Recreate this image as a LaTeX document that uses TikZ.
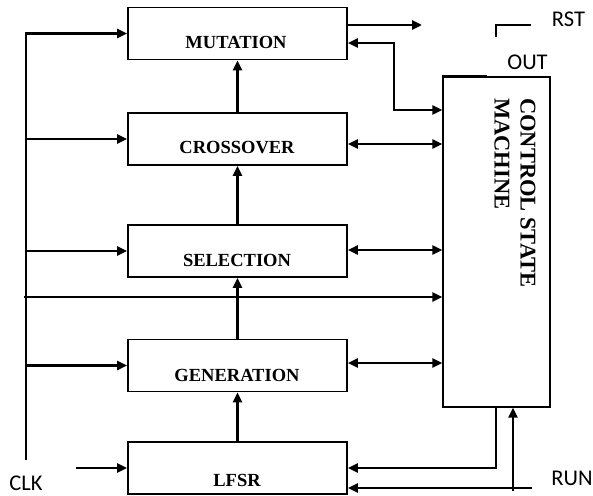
\documentclass[tikz,border=0pt]{standalone}
\usepackage{fontspec}
\setmainfont{Liberation Serif}
\newfontfamily\lblsans{Carlito}
\usetikzlibrary{arrows.meta,calc}
\begin{document}
\begin{tikzpicture}[x=1pt,y=-1pt,
 box/.style={draw, line width=1.8pt, minimum width=219pt, minimum height=52pt, inner sep=0pt},
 lbl/.style={font=\fontsize{18.5}{20}\selectfont\bfseries, inner sep=0pt},
 sig/.style={font=\lblsans\fontsize{22.5}{24}\selectfont, inner sep=0pt},
 wire/.style={line width=2.6pt},
 arr/.style={wire, -{Triangle[length=10pt,width=9pt]}},
 darr/.style={wire, {Triangle[length=10pt,width=9pt]}-{Triangle[length=10pt,width=9pt]}}]
\useasboundingbox (0,0) rectangle (593,495);
% blocks
\node[box] (mut) at (237.5,33.5) {};
\node[box] (cro) at (237.5,139) {};
\node[box] (sel) at (237.5,251) {};
\node[box] (gen) at (237.5,365.5) {};
\node[box] (lfsr) at (237.5,468) {};
\node[lbl] (mutl) at (236,42) {MUTATION};
\node[lbl] (crol) at (237,148) {CROSSOVER};
\node[lbl] (sell) at (237,260) {SELECTION};
\node[lbl] (genl) at (237,375) {GENERATION};
\node[lbl] (lfsrl) at (237,480) {LFSR};
% control state machine
\node[draw, line width=1.4pt, minimum width=107pt, minimum height=330pt, inner sep=0pt] (csm) at (496.5,242) {};
\node[rotate=-90, align=left, font=\fontsize{22.5}{26}\selectfont\bfseries, inner sep=0pt] (csmt) at (515,193) {CONTROL STATE\\MACHINE};
\draw[line width=2pt] (csm.north west) -- ++(45,0);
% vertical data flow
\draw[arr] (cro.north) -- (mut.south);
\draw[arr] (sel.north) -- (cro.south);
\draw[arr] (gen.north) -- (sel.south);
\draw[arr] (lfsr.north) -- (gen.south);
% clock bus
\coordinate (busb) at (26,460);
\draw[arr] (busb) |- (mut.west);
\draw[arr] (busb |- cro.west) -- (cro.west);
\draw[arr] (busb |- sel.west) -- (sel.west);
\draw[arr] (busb |- gen.west) -- (gen.west);
\coordinate (h) at (24,297);
\draw[arr] (h) -- (csm.west |- h);
\coordinate (clka) at (76,468);
\draw[arr] (clka) -- (lfsr.west);
% right side links
\coordinate (mo) at (422,25);
\draw[arr] (mut.east |- mo) -- (mo);
\coordinate (mk) at (394,43);
\coordinate (mk2) at (394,110);
\draw[darr] (mut.east |- mk) -- (mk) -- (mk2) -- (csm.west |- mk2);
\coordinate (cy) at (0,144);
\draw[darr] (cro.east |- cy) -- (csm.west |- cy);
\coordinate (sy) at (0,250);
\draw[darr] (sel.east |- sy) -- (csm.west |- sy);
\coordinate (gy) at (0,363);
\draw[darr] (gen.east |- gy) -- (csm.west |- gy);
\coordinate (q) at (496,468);
\draw[arr] (csm.south -| q) |- (lfsr.east |- q);
\coordinate (ra) at (532,488);
\draw[arr] (ra) -- (lfsr.east |- ra);
\coordinate (rb) at (513,491);
\draw[arr] (rb) -- (csm.south -| rb);
% RST hook
\coordinate (hk1) at (531,25);
\coordinate (hk2) at (496,37);
\draw[wire] (hk1) -| (hk2);
% signal labels
\node[sig] (clk) at (26,483) {CLK};
\node[sig] (rst) at (568.5,19.5) {RST};
\node[sig] (out) at (527.5,62) {OUT};
\node[sig] (run) at (572,478) {RUN};
\end{tikzpicture}
\end{document}
